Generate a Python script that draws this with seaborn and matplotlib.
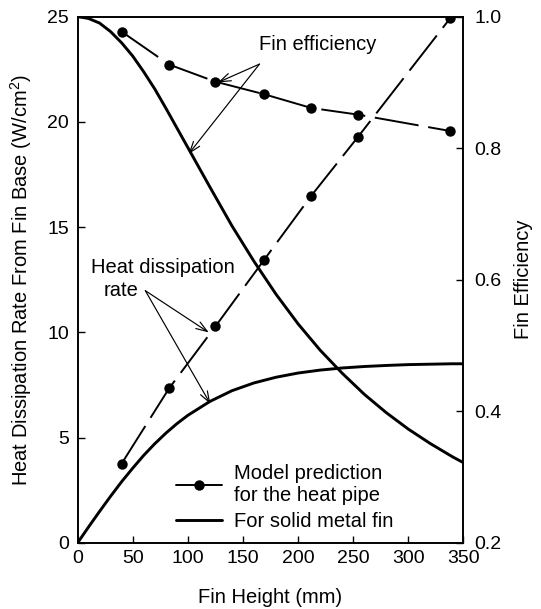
import numpy as np
import pandas as pd
import matplotlib
matplotlib.use("Agg")
import matplotlib.pyplot as plt
import seaborn as sns
from matplotlib.lines import Line2D

# ---- data ----
model_height = [40, 83, 125, 169, 212, 254, 338]
model_heat = [3.77, 7.34, 10.28, 13.43, 16.49, 19.26, 24.92]
model_eff = [0.977, 0.927, 0.901, 0.882, 0.861, 0.851, 0.826]

solid_height = [0, 10, 20, 30, 40, 50, 60, 70, 80, 90, 100, 120, 140, 160,
                180, 200, 220, 240, 260, 280, 300, 320, 340, 350]
solid_heat = [0.0, 0.76, 1.50, 2.22, 2.91, 3.55, 4.16, 4.71, 5.21, 5.66,
              6.06, 6.72, 7.23, 7.60, 7.87, 8.07, 8.21, 8.31, 8.38, 8.43,
              8.47, 8.49, 8.51, 8.51]
solid_eff = [1.0, 0.997, 0.990, 0.977, 0.960, 0.940, 0.916, 0.890, 0.861,
             0.831, 0.801, 0.741, 0.682, 0.628, 0.578, 0.533, 0.493, 0.458,
             0.426, 0.398, 0.373, 0.351, 0.331, 0.322]

x_ticks = [0, 50, 100, 150, 200, 250, 300, 350]
left_ticks = [0, 5, 10, 15, 20, 25]
right_ticks = [0.2, 0.4, 0.6, 0.8, 1.0]

sns.set_style("ticks")
plt.rcParams["font.family"] = ["Liberation Sans", "DejaVu Sans"]
plt.rcParams["lines.scale_dashes"] = False
plt.rcParams["mathtext.fontset"] = "custom"
plt.rcParams["mathtext.rm"] = "Liberation Sans"
plt.rcParams["text.color"] = "black"
plt.rcParams["axes.labelcolor"] = "black"
plt.rcParams["xtick.color"] = "black"
plt.rcParams["ytick.color"] = "black"

FS = 14.5
TS = 14
fig = plt.figure(figsize=(5.41, 6.09), dpi=100)
ax = fig.add_axes([0.1433, 0.1084, 0.7134, 0.8645])
ax2 = ax.twinx()

model_df = pd.DataFrame({"h": model_height, "q": model_heat, "e": model_eff})
solid_df = pd.DataFrame({"h": solid_height, "q": solid_heat, "e": solid_eff})

dash = (0, (32, 7))
sns.lineplot(data=model_df, x="h", y="q", ax=ax, color="black", marker="o",
             markersize=7.5, markeredgewidth=0, linewidth=1.4, linestyle=dash,
             sort=False)
sns.lineplot(data=solid_df, x="h", y="q", ax=ax, color="black",
             linewidth=2.1, sort=False)
sns.lineplot(data=model_df, x="h", y="e", ax=ax2, color="black", marker="o",
             markersize=7.5, markeredgewidth=0, linewidth=1.4, linestyle=dash,
             sort=False)
sns.lineplot(data=solid_df, x="h", y="e", ax=ax2, color="black",
             linewidth=2.1, sort=False)

ax.set_xlim(0, 350)
ax.set_ylim(0, 25)
ax2.set_ylim(0.2, 1.0)
ax.set_xticks(x_ticks)
ax.set_yticks(left_ticks)
ax2.set_yticks(right_ticks)
ax2.set_yticklabels([f"{t:.1f}" for t in right_ticks])

for a in (ax, ax2):
    for s in a.spines.values():
        s.set_visible(True)
        s.set_linewidth(1.2)
        s.set_color("black")
ax.tick_params(axis="both", direction="in", length=5, width=1,
               labelsize=TS, colors="black")
ax.tick_params(axis="x", pad=5)
ax.tick_params(axis="y", pad=6, right=False)
ax2.tick_params(axis="y", direction="in", length=5, width=1, labelsize=TS,
                pad=8, colors="black")

ax.set_xlabel("Fin Height (mm)", fontsize=FS, labelpad=15)
ax.set_ylabel("Heat Dissipation Rate From Fin Base (W/cm$^2$)", fontsize=FS,
              labelpad=10)
ax2.set_ylabel("Fin Efficiency", fontsize=FS, labelpad=9)

# annotations
arrow = dict(arrowstyle="->,head_length=0.8,head_width=0.28", lw=0.85,
             color="black", shrinkA=0, shrinkB=0)
ax.text(165, 23.65, "Fin efficiency", fontsize=FS, va="center", ha="left")
ax.annotate("", xy=(127.4, 21.87), xytext=(165, 22.74), arrowprops=arrow)
ax.annotate("", xy=(100.7, 18.47), xytext=(165, 22.74), arrowprops=arrow)

ax.text(12, 13.08, "Heat dissipation", fontsize=FS, va="center", ha="left")
ax.text(23.8, 11.98, "rate", fontsize=FS, va="center", ha="left")
ax.annotate("", xy=(119, 10.0), xytext=(61.5, 11.98), arrowprops=arrow)
ax.annotate("", xy=(120.5, 6.6), xytext=(61.5, 11.98), arrowprops=arrow)

handles = [
    Line2D([], [], color="black", marker="o", markersize=7.5,
           markeredgewidth=0, linewidth=1.4),
    Line2D([], [], color="black", linewidth=2.1),
]
labels = ["Model prediction\nfor the heat pipe", "For solid metal fin"]
ax.legend(handles, labels, loc="upper left", bbox_to_anchor=(0.255, 0.15),
          frameon=False, fontsize=FS, handlelength=2.3, handletextpad=0.6,
          borderpad=0, borderaxespad=0, labelspacing=0.35)

fig.savefig("out.png", dpi=100)
